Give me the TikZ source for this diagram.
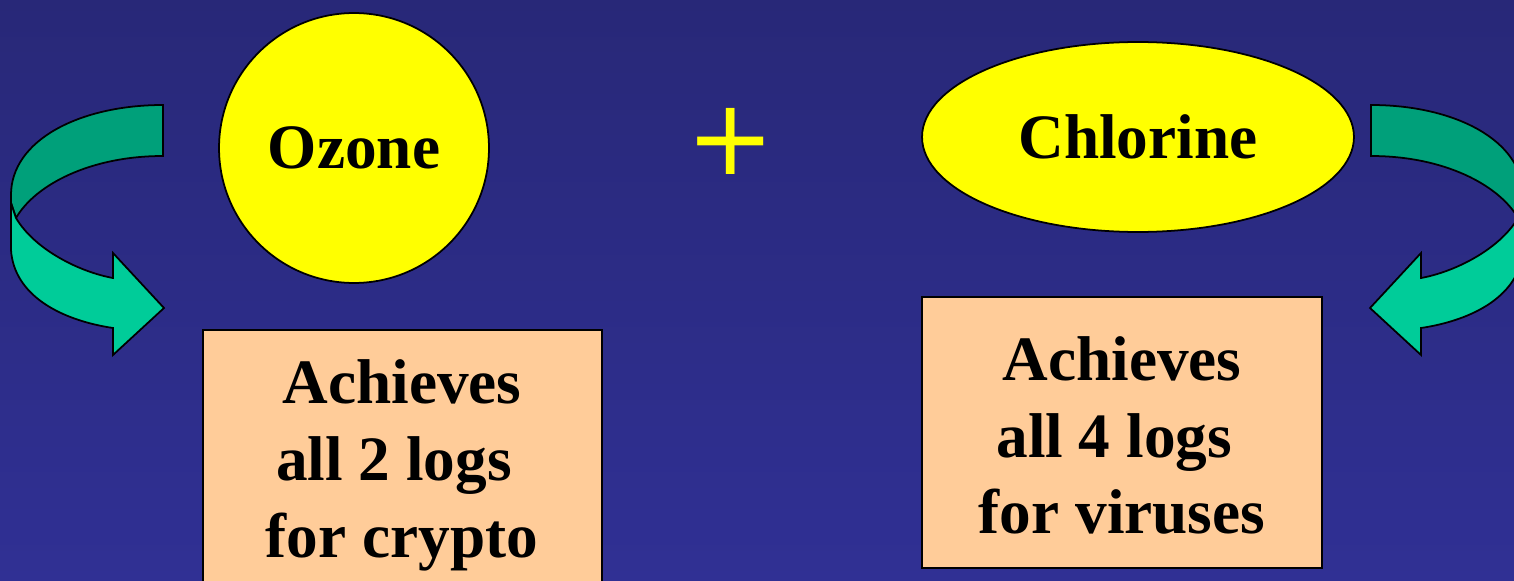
\documentclass[tikz,border=0pt]{standalone}
\usepackage{fontspec}
\setmainfont{Liberation Serif}
\newfontfamily\plusfont{DejaVu Sans}
\usetikzlibrary{shapes.geometric}
\definecolor{bgtop}{RGB}{40,40,120}
\definecolor{bgbottom}{RGB}{48,48,148}
\definecolor{peach}{RGB}{255,204,153}
\definecolor{lemon}{RGB}{255,255,0}
\definecolor{greenback}{RGB}{0,160,122}
\definecolor{greenfront}{RGB}{0,204,153}

\begin{document}
\begin{tikzpicture}[
  x=0.02cm, y=-0.02cm,
  chem/.style={draw=black, line width=1pt, fill=lemon, inner sep=0pt,
    font=\fontsize{36}{40}\selectfont\bfseries},
  resbox/.style={rectangle, draw=black, line width=1pt, fill=peach, inner sep=0pt},
  restext/.style={align=center, font=\fontsize{36}{43.7}\selectfont\bfseries},
  back/.style={draw=black, line width=1pt, fill=greenback},
  front/.style={draw=black, line width=1pt, fill=greenfront}
]
  \useasboundingbox (0,0) rectangle (1514,581);
  \clip (0,0) rectangle (1514,581);

  % Fondo degradado
  \shade[top color=bgtop, bottom color=bgbottom] (0,0) rectangle (1514,581);

  % Desinfectantes
  \node[chem, circle, minimum size=5.4cm] (ozone) at (354,148) {Ozone};
  \node[chem, ellipse, minimum width=8.64cm, minimum height=3.8cm] (chlorine) at (1138,137) {Chlorine};
  \node[text=lemon, inner sep=0pt, font=\plusfont\fontsize{60}{60}\selectfont] (plus) at (731,141) {+};

  % Resultados
  \node[resbox, anchor=north, minimum width=7.98cm, minimum height=6cm] (boxL) at (402.5,329) {};
  \node[resbox, minimum width=8cm, minimum height=5.42cm] (boxR) at (1122,432.5) {};
  \node[restext] (txtL) at (402,465.5) {Achieves\\ all 2 logs\kern.25em\\ for crypto};
  \node[restext] (txtR) at (1122,435.5) {Achieves\\ all 4 logs\kern.25em\\ for viruses};

  % Flechas curvas (la derecha es el reflejo de la izquierda)
  \foreach \dx/\sx in {0/1, 1534/-1} {
    \begin{scope}[shift={(\dx,0)}, xscale=\sx]
      \draw[back] (163,105) .. controls (80,105) and (11,140) .. (11,195)
        -- (11,203) -- (16,218) .. controls (35,185) and (90,156) .. (163,156) -- cycle;
      \draw[front] (11,203) -- (11,250) .. controls (14,295) and (60,320) .. (113,328)
        -- (113,355) -- (164,308) -- (113,253) -- (113,278)
        .. controls (80,272) and (35,250) .. (16,218) -- cycle;
    \end{scope}
  }
\end{tikzpicture}
\end{document}
